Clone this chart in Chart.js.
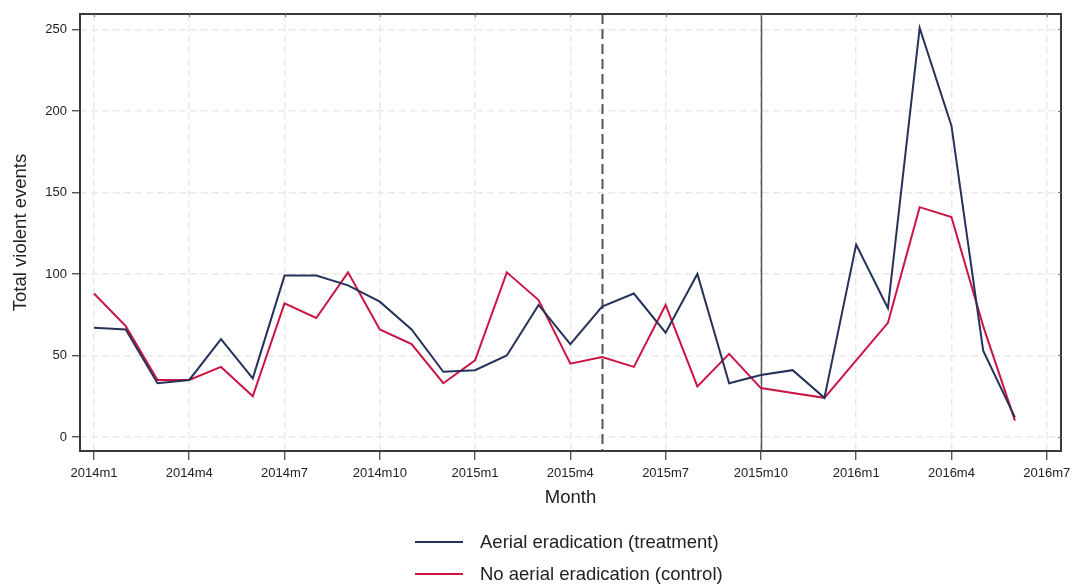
<!DOCTYPE html>
<html>
<head>
<meta charset="utf-8">
<script src="https://cdn.jsdelivr.net/npm/chart.js@4"></script>
<style>
  html, body { margin: 0; padding: 0; background: #fff; }
  #wrap { position: relative; width: 1073px; height: 584px; font-family: "Liberation Sans", Arial, sans-serif; }
  #legend { position: absolute; left: 415px; top: 526px; }
  .leg-row { display: flex; align-items: center; height: 32px; font-size: 18.5px; color: #222; }
  .leg-line { width: 48px; height: 2px; margin-right: 17px; }
</style>
</head>
<body>
<div id="wrap">
  <canvas id="chart" width="1073" height="584"></canvas>
  <div id="legend"></div>
</div>
<script>
// ===== Monthly violent events: aerial eradication vs control =====

// months since 2014m1 (0 = 2014m1 ... 29 = 2016m6)
const months = Array.from({ length: 30 }, (_, i) => i);
const treatment = [67, 66, 33, 35, 60, 36, 99, 99, 93, 83, 66, 40, 41, 50, 81, 57, 80, 88, 64, 100,
                   33, 38, 41, 24, 118, 79, 251, 191, 53, 12];
const control   = [88, 68, 35, 35, 43, 25, 82, 73, 101, 66, 57, 33, 47, 101, 84, 45, 49, 43, 81, 31,
                   51, 30, 27, 24, 47, 70, 141, 135, 68, 10];

const xTickValues = [0, 3, 6, 9, 12, 15, 18, 21, 24, 27, 30];
const xTickLabels = ['2014m1', '2014m4', '2014m7', '2014m10', '2015m1', '2015m4', '2015m7',
                     '2015m10', '2016m1', '2016m4', '2016m7'];
const yTickValues = [0, 50, 100, 150, 200, 250];

// reference lines: 2015m5 (dashed), 2015m10 (solid)
const dashedLineAt = 16;
const solidLineAt = 21;

const seriesNames = ['Aerial eradication (treatment)', 'No aerial eradication (control)'];
const seriesColors = ['#26325a', '#cc1443'];

const frameColor = '#3a3a3a';
const gridColor = '#e9e9e9';
const textColor = '#222';

// --- frame + vertical reference lines ---
const framePlugin = {
  id: 'frame',
  beforeDatasetsDraw(chart) {
    const { ctx, chartArea: a, scales } = chart;
    const x = scales.x;
    ctx.save();
    ctx.strokeStyle = '#555';
    ctx.lineWidth = 2;
    ctx.setLineDash([10, 5]);
    const xd = Math.round(x.getPixelForValue(dashedLineAt)) + 0.5;
    ctx.beginPath(); ctx.moveTo(xd, a.top); ctx.lineTo(xd, a.bottom); ctx.stroke();
    ctx.setLineDash([]);
    ctx.lineWidth = 1.5;
    const xs = Math.round(x.getPixelForValue(solidLineAt)) + 0.5;
    ctx.beginPath(); ctx.moveTo(xs, a.top); ctx.lineTo(xs, a.bottom); ctx.stroke();
    ctx.restore();
  },
  afterDraw(chart) {
    const { ctx, chartArea: a, scales } = chart;
    ctx.save();
    ctx.strokeStyle = frameColor;
    ctx.lineWidth = 2;
    ctx.strokeRect(a.left, a.top, a.right - a.left, a.bottom - a.top);
    // small inner ticks on top and right edges
    ctx.lineWidth = 1;
    ctx.strokeStyle = '#777';
    xTickValues.forEach(v => {
      const px = Math.round(scales.x.getPixelForValue(v)) + 0.5;
      ctx.beginPath(); ctx.moveTo(px, a.top); ctx.lineTo(px, a.top + 3); ctx.stroke();
    });
    yTickValues.forEach(v => {
      const py = Math.round(scales.y.getPixelForValue(v)) + 0.5;
      ctx.beginPath(); ctx.moveTo(a.right, py); ctx.lineTo(a.right - 3, py); ctx.stroke();
    });
    ctx.restore();
  }
};

function buildDatasets() {
  return [treatment, control].map((vals, k) => ({
    label: seriesNames[k],
    data: months.map((m, i) => ({ x: m, y: vals[i] })),
    borderColor: seriesColors[k],
    backgroundColor: seriesColors[k],
    borderWidth: 2,
    pointRadius: 0,
    tension: 0,
    fill: false
  }));
}

function initChart() {
  const ctx = document.getElementById('chart').getContext('2d');
  new Chart(ctx, {
    type: 'line',
    data: { datasets: buildDatasets() },
    plugins: [framePlugin],
    options: {
      responsive: false,
      animation: false,
      layout: { padding: { left: 6, top: 14, right: 12, bottom: 71 } },
      plugins: { legend: { display: false }, tooltip: { enabled: false } },
      scales: {
        x: {
          type: 'linear',
          min: -0.44,
          max: 30.45,
          afterBuildTicks: s => { s.ticks = xTickValues.map(v => ({ value: v })); },
          afterFit: s => { s.height = 62; s.paddingLeft = 0; s.paddingRight = 0; },
          grid: {
            color: gridColor, lineWidth: 1.5,
            tickColor: frameColor, tickLength: 9, tickWidth: 1.2, tickBorderDash: []
          },
          border: { display: false, dash: [7, 4] },
          ticks: {
            color: textColor, padding: 6, maxRotation: 0, autoSkip: false,
            font: { family: 'Liberation Sans', size: 13 },
            callback: v => xTickLabels[xTickValues.indexOf(v)]
          },
          title: { display: true, text: 'Month', color: textColor, font: { family: 'Liberation Sans', size: 18.5 } }
        },
        y: {
          type: 'linear',
          min: -8.6,
          max: 259.5,
          afterBuildTicks: s => { s.ticks = yTickValues.map(v => ({ value: v })); },
          afterFit: s => { s.width = 74; s.paddingTop = 0; s.paddingBottom = 0; },
          grid: {
            color: gridColor, lineWidth: 1.5,
            tickColor: frameColor, tickLength: 8, tickWidth: 1.2, tickBorderDash: []
          },
          border: { display: false, dash: [7, 4] },
          ticks: {
            color: textColor, padding: 5,
            font: { family: 'Liberation Sans', size: 13 }
          },
          title: { display: true, text: 'Total violent events', color: textColor, font: { family: 'Liberation Sans', size: 18.5 } }
        }
      }
    }
  });
}

function renderLegend() {
  const el = document.getElementById('legend');
  el.innerHTML = seriesNames.map((name, k) => `
    <div class="leg-row"><span class="leg-line" style="background:${seriesColors[k]}"></span>${name}</div>
  `).join('');
}

initChart();
renderLegend();
</script>
</body>
</html>
